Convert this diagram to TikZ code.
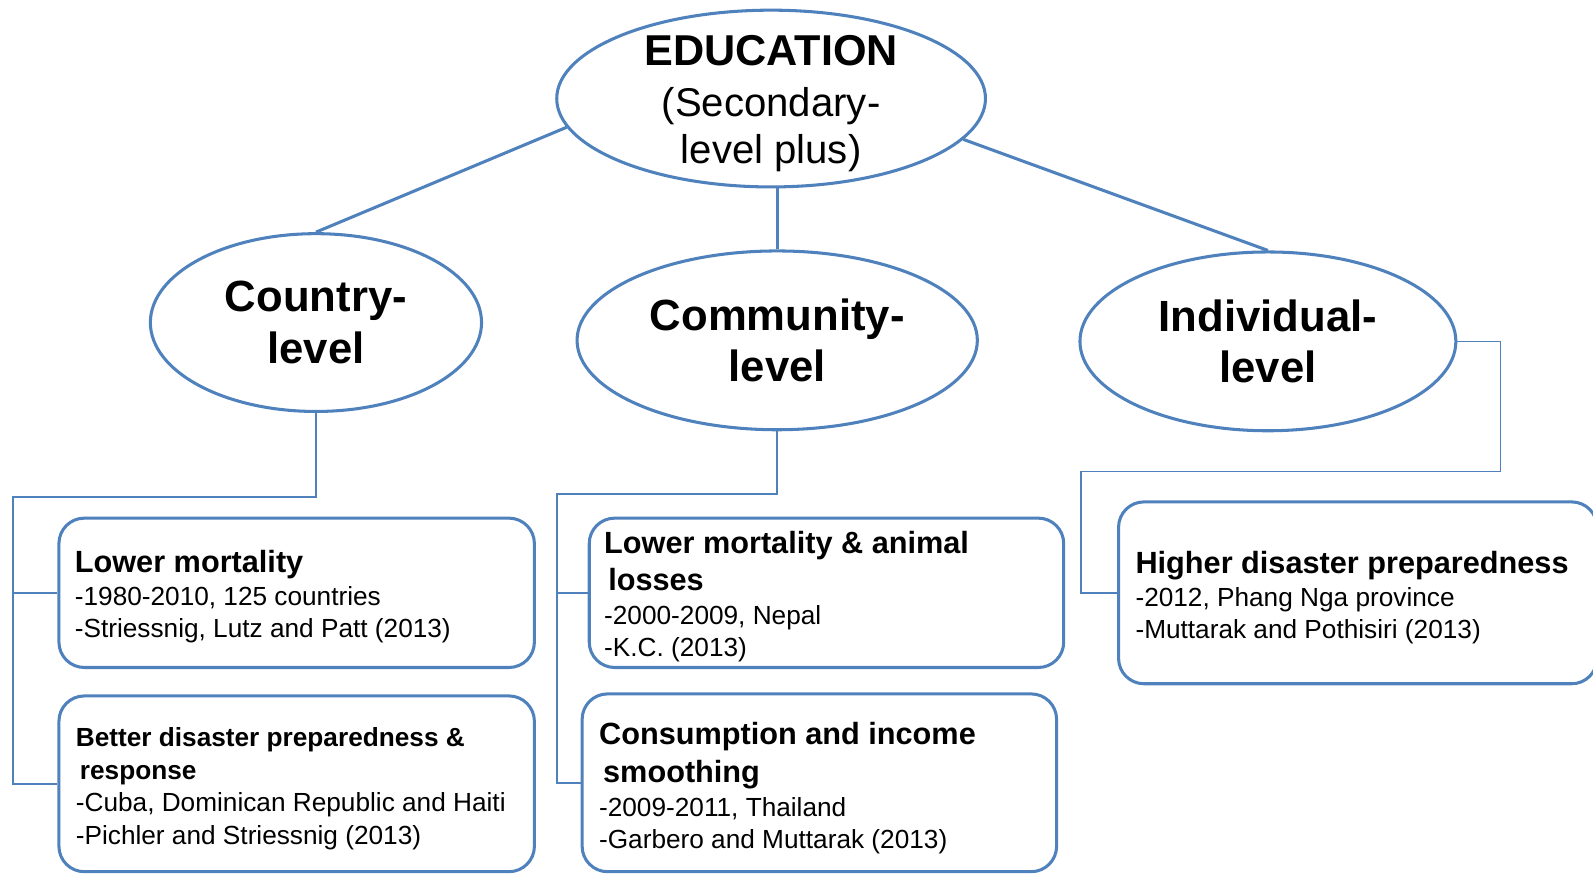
\documentclass[tikz,border=0pt]{standalone}
\usepackage{fontspec}
\setmainfont{Liberation Sans}
\usetikzlibrary{shapes.geometric}
\definecolor{officeblue}{HTML}{4F81BD}
\newcommand\cardtitle[1]{{\fontsize{30.2}{36}\selectfont\bfseries #1}}
\newcommand\smalltitle[1]{{\fontsize{25.8}{32}\selectfont\bfseries #1}}
\begin{document}
\begin{tikzpicture}[x=1pt,y=-1pt,
  oval/.style={ellipse,draw=officeblue,line width=3pt,inner sep=0pt,align=center,fill=white},
  levelfont/.style={font=\fontsize{43}{51}\selectfont\bfseries},
  card/.style={draw=officeblue,line width=3pt,rounded corners=25pt,inner sep=0pt,fill=white},
  cardtext/.style={anchor=west,inner sep=0pt,align=left,font=\fontsize{25.8}{32}\selectfont},
  trunk/.style={draw=officeblue,line width=3pt},
  branch/.style={draw=officeblue,line width=1.5pt},
]
\useasboundingbox (0,0) rectangle (1568,860);

% ---- ellipses ----
\node[oval,minimum width=422pt,minimum height=174pt] (edu) at (759,97) {};
\node[inner sep=0pt,align=center,font=\fontsize{39.5}{47}\selectfont]
  (edutext) at ([yshift=-5pt]edu.center)
  {{\fontsize{42.5}{47}\selectfont\bfseries EDUCATION}\\[3pt](Secondary-\\level plus)};
\node[oval,levelfont,minimum width=326pt,minimum height=175pt] (cty) at (311,317.5) {Country-\\level};
\node[oval,levelfont,minimum width=394pt,minimum height=176pt] (com) at (765,335) {Community-\\level};
\node[oval,levelfont,minimum width=370pt,minimum height=176pt] (ind) at (1248,336) {Individual-\\level};

% ---- links from the top ellipse ----
\draw[trunk] (edu.188) -- (cty.north);
\draw[trunk] (com.north |- edu.south) -- (com.north);
\draw[trunk] (edu.348) -- (ind.north);

% ---- boxes ----
\node[card,minimum width=468pt,minimum height=147pt] (b1) at (292,583.5) {};
\node[card,minimum width=468pt,minimum height=173pt] (b2) at (292,771.5) {};
\node[card,minimum width=467pt,minimum height=147pt] (b3) at (813.5,583.5) {};
\node[card,minimum width=467pt,minimum height=175pt] (b4) at (806.5,770.5) {};
\node[card,minimum width=471pt,minimum height=179pt] (b5) at (1336.5,583.5) {};

\node[cardtext] (t1) at ([xshift=17pt,yshift=-4pt]b1.west)
  {\cardtitle{Lower mortality}\\-1980-2010, 125 countries\\-Striessnig, Lutz and Patt (2013)};
\node[cardtext] (t2) at ([xshift=18pt,yshift=-5pt]b2.west)
  {\smalltitle{Better disaster preparedness \&}\\\hspace*{4pt}\smalltitle{response}\\-Cuba, Dominican Republic and Haiti\\-Pichler and Striessnig (2013)};
\node[cardtext] (t3) at ([xshift=16pt,yshift=-4pt]b3.west)
  {\cardtitle{Lower mortality \& animal}\\[4pt]\hspace*{4pt}\cardtitle{losses}\\[1pt]-2000-2009, Nepal\\-K.C. (2013)};
\node[cardtext] (t4) at ([xshift=18pt,yshift=-5.5pt]b4.west)
  {\cardtitle{Consumption and income}\\[5pt]\hspace*{4pt}\cardtitle{smoothing}\\[1pt]-2009-2011, Thailand\\-Garbero and Muttarak (2013)};
\node[cardtext] (t5) at ([xshift=18pt,yshift=-5pt]b5.west)
  {\cardtitle{Higher disaster preparedness}\\-2012, Phang Nga province\\-Muttarak and Pothisiri (2013)};

% ---- elbow connectors ----
\coordinate (cbus) at (13,489);
\draw[branch] (cty.south) |- (cbus) |- (b2.west);
\draw[branch] (cbus |- b1.west) -- (b1.west);

\coordinate (mbus) at (548,486);
\draw[branch] (com.south) |- (mbus) |- (b4.west);
\draw[branch] (mbus |- b3.west) -- (b3.west);

\coordinate (ibusR) at (1477,464);
\coordinate (ibusL) at (1064,464);
\draw[branch] (ind.east) -| (ibusR) -- (ibusL) |- (b5.west);
\end{tikzpicture}
\end{document}
